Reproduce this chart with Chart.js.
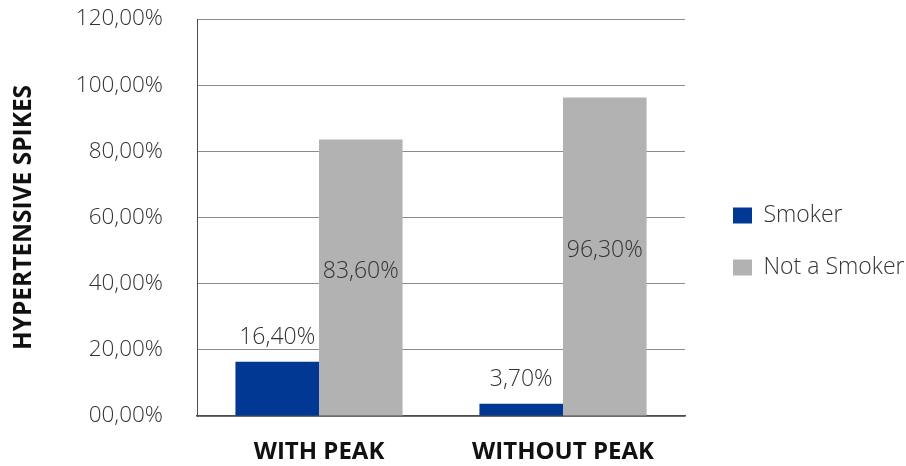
<!DOCTYPE html>
<html>
<head>
<meta charset="utf-8">
<script src="https://cdn.jsdelivr.net/npm/chart.js@4"></script>
<style>
  html, body { margin: 0; padding: 0; background: #ffffff; }
  #wrap { width: 906px; height: 466px; position: relative; }
</style>
</head>
<body>
<div id="wrap"><canvas id="chart" width="906" height="466"></canvas></div>
<script>
// Chart data
const categories = ['WITH PEAK', 'WITHOUT PEAK'];
const seriesNames = ['Smoker', 'Not a Smoker'];
const smokerValues = [16.4, 3.7];
const nonSmokerValues = [83.6, 96.3];
const yTickValues = [0, 20, 40, 60, 80, 100, 120];
const yTitle = 'HYPERTENSIVE SPIKES';

const LIGHT_FONT = '"Open Sans", "Noto Sans", sans-serif';
const BOLD_FONT = '"Open Sans", "Noto Sans", sans-serif';
const TEXT_COLOR = '#333333';

// 0 -> "00,00%", 20 -> "20,00%", 100 -> "100,00%"
function tickText(v) {
  const whole = String(Math.round(v)).padStart(2, '0');
  return whole + ',00%';
}
// 16.4 -> "16,40%"
function valueText(v) {
  return v.toFixed(2).replace('.', ',') + '%';
}

// The legend column takes everything right of the plot
const PLOT_RIGHT = 685;
const LEGEND_COLUMN = 906 - PLOT_RIGHT;

// Value labels: above the bar or centred inside it
const valueLabels = {
  id: 'valueLabels',
  afterDatasetsDraw(chart) {
    const ctx = chart.ctx;
    ctx.save();
    ctx.font = '300 23px ' + LIGHT_FONT;
    ctx.fillStyle = TEXT_COLOR;
    ctx.textAlign = 'center';
    ctx.textBaseline = 'middle';
    chart.data.datasets.forEach((ds, di) => {
      chart.getDatasetMeta(di).data.forEach((bar, i) => {
        const y = ds.labelInside ? (bar.y + bar.base) / 2 - 6 : bar.y - 24;
        ctx.fillText(valueText(ds.data[i]), bar.x, y);
      });
    });
    ctx.restore();
  }
};

// Fixed legend column width, and the item block placed a bit inward
const legendPlacement = {
  id: 'legendPlacement',
  beforeLayout(chart) {
    const l = chart.legend;
    if (l && !l._fixedWidth) {
      const fit = l.fit.bind(l);
      l.fit = function () { fit(); this.width = LEGEND_COLUMN; };
      l._fixedWidth = true;
    }
  },
  afterLayout(chart) {
    const l = chart.legend;
    if (!l) return;
    l.left += 19; l.right += 19;
    l.top -= 1; l.bottom -= 1;
  }
};

new Chart(document.getElementById('chart'), {
  type: 'bar',
  data: {
    labels: categories,
    datasets: [
      {
        label: seriesNames[0],
        data: smokerValues,
        backgroundColor: '#003894',
        labelInside: false
      },
      {
        label: seriesNames[1],
        data: nonSmokerValues,
        backgroundColor: '#b2b2b2',
        labelInside: true
      }
    ]
  },
  plugins: [valueLabels, legendPlacement],
  options: {
    responsive: false,
    animation: false,
    devicePixelRatio: 1,
    layout: { padding: { top: 19, left: 0, right: 0, bottom: 0 } },
    datasets: { bar: { categoryPercentage: 0.685, barPercentage: 1.0 } },
    plugins: {
      tooltip: { enabled: false },
      legend: {
        position: 'right',
        labels: {
          boxWidth: 19,
          boxHeight: 16,
          padding: 29,
          color: TEXT_COLOR,
          font: { family: LIGHT_FONT, size: 23, weight: '300' }
        }
      }
    },
    scales: {
      x: {
        grid: { display: false, drawTicks: false },
        border: { display: true, color: '#4d4d4d', width: 1.5 },
        ticks: {
          padding: 22,
          color: '#111111',
          font: { family: BOLD_FONT, size: 24, weight: '700' }
        },
        afterFit(scale) { scale.height = 50; }
      },
      y: {
        min: 0,
        max: 120,
        afterBuildTicks(scale) { scale.ticks = yTickValues.map(v => ({ value: v })); },
        grid: {
          color: '#8c8c8c',
          lineWidth: 1,
          drawTicks: true,
          tickLength: 29,
          tickColor: 'rgba(0,0,0,0)'
        },
        border: { display: true, color: '#4d4d4d', width: 1 },
        ticks: {
          padding: 5,
          color: TEXT_COLOR,
          font: { family: LIGHT_FONT, size: 22.5, weight: '300' },
          callback: (v) => tickText(v)
        },
        title: {
          display: true,
          text: yTitle,
          color: '#111111',
          padding: { top: 9.5, bottom: 0 },
          font: { family: BOLD_FONT, size: 24.5, weight: '700' }
        },
        afterFit(scale) { scale.width = 197; }
      }
    }
  }
});
</script>
</body>
</html>
